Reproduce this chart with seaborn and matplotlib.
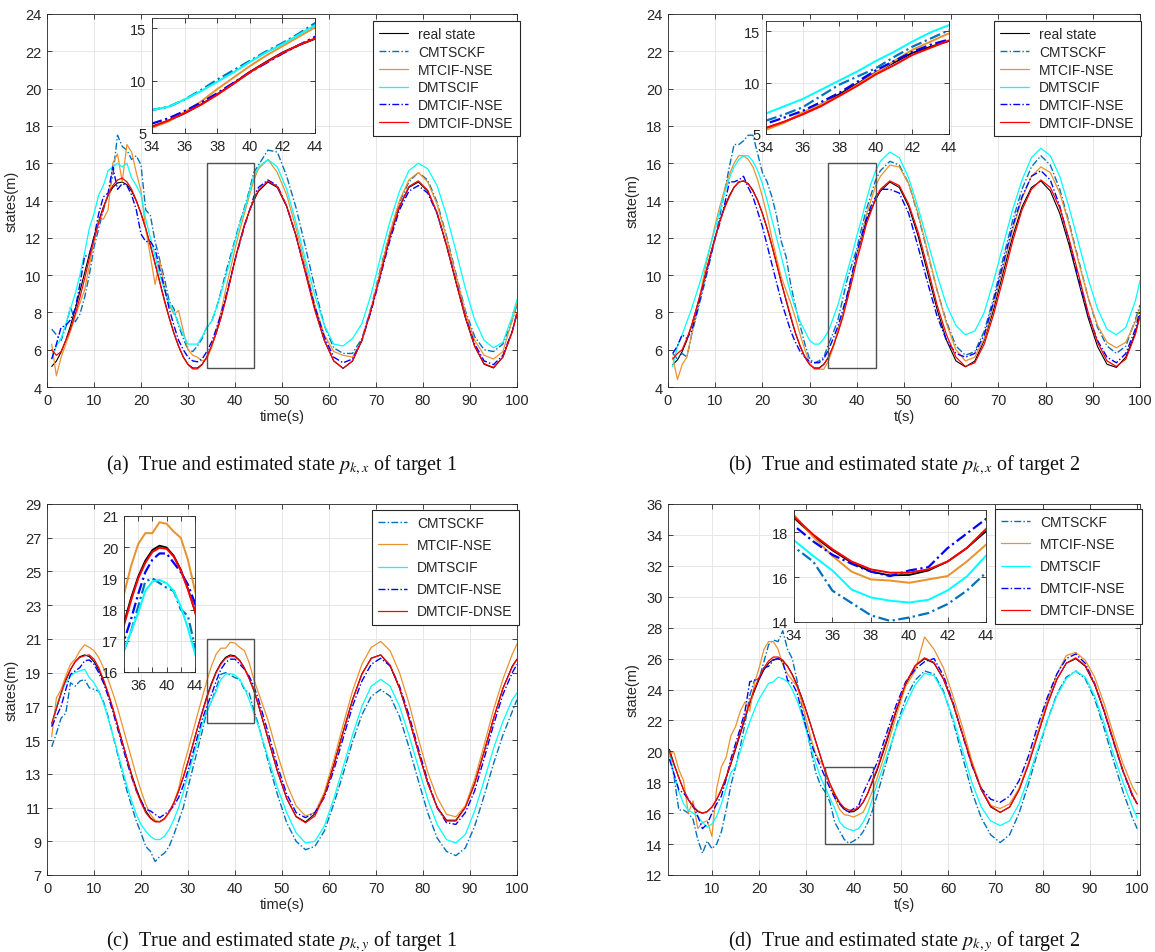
import matplotlib
matplotlib.use("Agg")
import matplotlib.pyplot as plt
import seaborn as sns
import numpy as np
import pandas as pd
from matplotlib.patches import Rectangle

# ---------------- data ----------------
t_grid = [1, 2, 3, 4, 5, 6, 7, 8, 9, 10, 11, 12, 13, 14, 15, 16, 17, 18, 19, 20,
          21, 22, 23, 24, 25, 26, 27, 28, 29, 30, 31, 32, 33, 34, 35, 36, 37, 38, 39, 40,
          41, 42, 43, 44, 45, 47, 49, 51, 53, 55, 57, 59, 61, 63, 65, 67, 69, 71, 73, 75,
          77, 79, 81, 83, 85, 87, 89, 91, 93, 95, 97, 99, 100]

methods = ["real state", "CMTSCKF", "MTCIF-NSE", "DMTSCIF", "DMTCIF-NSE", "DMTCIF-DNSE"]

# (a) p_{k,x} target 1
a_real = [5.10, 5.39, 5.87, 6.51, 7.29, 8.17, 9.13, 10.12, 11.11, 12.06,
          12.91, 13.66, 14.27, 14.70, 14.94, 14.99, 14.85, 14.51, 13.98, 13.31,
          12.50, 11.59, 10.62, 9.63, 8.65, 7.72, 6.88, 6.17, 5.61, 5.22,
          5.02, 5.02, 5.22, 5.61, 6.17, 6.88, 7.72, 8.70, 9.75, 10.85,
          11.80, 12.70, 13.40, 14.00,
          14.50, 14.99, 14.70, 13.67, 12.08, 10.12, 8.17, 6.51, 5.40, 5.00,
          5.39, 6.51, 8.17, 10.12, 12.06, 13.66, 14.70, 14.99, 14.51, 13.31,
          11.59, 9.63, 7.72, 6.17, 5.22, 5.02, 5.61, 7.00,
          7.90]
a_cmtsckf = [7.10, 6.80, 6.50, 7.20, 8.30, 7.50, 7.90, 8.80, 10.00, 11.50,
             12.50, 13.50, 14.30, 15.30, 17.50, 16.90, 16.70, 16.20, 16.40, 15.90,
             13.50, 13.20, 11.80, 10.80, 9.80, 8.60, 8.20, 7.30, 6.60, 6.00,
             5.90, 6.20, 6.60, 7.20, 7.50, 8.20, 9.10, 10.10, 11.00, 11.90,
             12.80, 13.60, 14.50, 15.50,
             15.90, 16.70, 16.60, 15.30, 13.60, 11.50, 9.30, 7.30, 6.10, 5.80,
             5.80, 6.60, 8.30, 10.40, 12.30, 13.90, 15.00, 15.50, 15.10, 13.90,
             12.10, 10.10, 8.10, 6.70, 6.00, 5.90, 6.30, 7.60,
             8.40]
a_mtcif = [6.30, 4.60, 5.60, 6.30, 7.00, 7.80, 8.50, 9.20, 10.50, 11.80,
           13.00, 13.00, 13.50, 16.00, 16.50, 15.00, 17.00, 16.60, 15.50, 14.50,
           12.50, 11.00, 9.50, 10.80, 9.30, 8.40, 7.90, 8.10, 7.00, 6.00,
           5.70, 5.60, 5.40, 5.50, 6.10, 7.00, 8.00, 9.20, 10.30, 11.40,
           12.40, 13.30, 14.20, 15.10,
           15.70, 16.20, 15.50, 14.30, 12.50, 10.50, 8.40, 6.80, 5.90, 5.70,
           5.60, 6.50, 8.20, 10.30, 12.30, 14.00, 15.10, 15.50, 15.00, 13.80,
           12.00, 10.00, 8.00, 6.50, 5.70, 5.50, 5.90, 7.60,
           8.50]
a_dmtscif = [5.50, 6.20, 6.60, 7.40, 8.20, 9.00, 10.00, 11.20, 12.50, 13.30,
             14.30, 14.80, 15.60, 15.80, 16.00, 15.80, 16.00, 15.20, 14.80, 14.30,
             13.00, 12.00, 11.00, 10.00, 9.20, 8.50, 8.00, 7.40, 6.80, 6.30,
             6.30, 6.30, 6.70, 7.20, 7.50, 8.20, 9.00, 9.90, 10.80, 11.80,
             12.70, 13.50, 14.40, 15.30,
             15.80, 16.20, 15.80, 14.60, 12.80, 10.80, 8.90, 7.30, 6.30, 6.20,
             6.60, 7.40, 9.00, 11.00, 12.90, 14.50, 15.60, 16.00, 15.70, 14.80,
             13.20, 11.30, 9.30, 7.60, 6.50, 6.10, 6.40, 7.80,
             8.70]
a_dmtcif_nse = [5.50, 6.30, 7.20, 7.30, 7.60, 8.20, 9.50, 11.00, 11.10, 12.00,
                13.30, 14.20, 14.40, 15.80, 14.60, 14.90, 14.80, 14.30, 13.50, 12.20,
                11.80, 11.80, 11.40, 10.30, 9.30, 8.20, 7.30, 6.50, 6.00, 5.60,
                5.40, 5.35, 5.50, 5.90, 6.40, 7.10, 7.90, 8.80, 9.80, 10.80,
                11.70, 12.60, 13.40, 14.20,
                14.70, 15.10, 14.80, 13.70, 12.10, 10.20, 8.30, 6.70, 5.60, 5.30,
                5.50, 6.50, 8.10, 10.00, 11.90, 13.50, 14.50, 14.80, 14.40, 13.30,
                11.60, 9.70, 7.80, 6.30, 5.40, 5.20, 5.70, 7.00,
                8.00]
a_dmtcif_dnse = [6.00, 5.70, 5.90, 6.50, 7.10, 7.90, 8.80, 9.80, 10.90, 11.90,
                 12.80, 13.60, 14.30, 14.80, 15.10, 15.20, 15.00, 14.60, 14.00, 13.30,
                 12.50, 11.60, 10.60, 9.60, 8.60, 7.70, 6.90, 6.20, 5.60, 5.20,
                 4.97, 4.97, 5.20, 5.60, 6.20, 6.90, 7.70, 8.65, 9.70, 10.80,
                 11.75, 12.65, 13.40, 14.05,
                 14.55, 15.05, 14.75, 13.70, 12.10, 10.10, 8.10, 6.50, 5.40, 5.00,
                 5.40, 6.50, 8.20, 10.10, 12.10, 13.70, 14.75, 15.05, 14.55, 13.35,
                 11.60, 9.65, 7.75, 6.20, 5.25, 5.05, 5.60, 6.95,
                 7.95]

# (b) p_{k,x} target 2
b_real = [5.20, 5.45, 5.90, 6.50, 7.29, 8.17, 9.13, 10.12, 11.11, 12.06,
          12.91, 13.66, 14.27, 14.72, 14.98, 15.05, 14.90, 14.55, 14.00, 13.31,
          12.50, 11.59, 10.62, 9.63, 8.65, 7.72, 6.88, 6.17, 5.61, 5.22,
          5.02, 5.02, 5.22, 5.58, 6.17, 6.95, 7.85, 8.87, 9.90, 11.00,
          11.95, 12.90, 13.50, 14.05,
          14.50, 14.99, 14.70, 13.67, 12.08, 10.12, 8.17, 6.51, 5.40, 5.08,
          5.39, 6.51, 8.17, 10.12, 12.06, 13.66, 14.70, 15.05, 14.51, 13.31,
          11.59, 9.63, 7.72, 6.17, 5.22, 5.05, 5.61, 6.90,
          7.85]
b_cmtsckf = [5.80, 5.50, 5.80, 5.60, 6.80, 7.80, 8.80, 9.80, 10.90, 12.00,
             13.20, 14.50, 15.80, 17.00, 17.00, 17.20, 17.50, 17.50, 16.50, 15.50,
             15.00, 14.20, 13.20, 11.80, 11.00, 9.50, 8.30, 7.30, 6.30, 5.50,
             5.30, 5.40, 5.60, 6.30, 6.90, 7.60, 8.70, 9.80, 10.60, 11.40,
             12.50, 13.50, 14.30, 15.10,
             15.60, 16.10, 15.90, 14.90, 13.20, 11.20, 9.20, 7.50, 6.20, 5.70,
             5.90, 7.00, 8.80, 10.90, 12.90, 14.60, 15.80, 16.40, 15.90, 14.60,
             12.80, 10.80, 8.80, 7.20, 6.20, 5.80, 6.20, 7.60,
             8.40]
b_mtcif = [5.60, 4.40, 5.20, 5.60, 6.80, 8.00, 9.20, 10.50, 11.60, 12.70,
           13.70, 14.60, 15.40, 16.00, 16.40, 16.40, 16.20, 15.80, 15.10, 14.20,
           13.20, 12.00, 10.90, 9.90, 9.20, 8.50, 7.70, 6.80, 6.00, 5.30,
           4.95, 4.95, 4.95, 5.40, 6.10, 7.10, 7.90, 8.70, 9.80, 10.95,
           12.10, 13.20, 14.00, 14.80,
           15.30, 15.90, 15.80, 14.90, 13.30, 11.30, 9.20, 7.40, 6.00, 5.40,
           5.60, 6.60, 8.40, 10.40, 12.40, 14.10, 15.30, 15.80, 15.50, 14.40,
           12.70, 10.70, 8.80, 7.30, 6.40, 6.10, 6.40, 7.50,
           8.20]
b_dmtscif = [5.10, 6.20, 6.80, 7.50, 8.20, 9.00, 9.80, 10.70, 11.60, 12.50,
             13.50, 14.40, 15.20, 15.80, 16.20, 16.40, 16.40, 16.10, 15.60, 14.90,
             14.00, 13.00, 12.00, 11.00, 10.00, 9.00, 8.20, 7.50, 7.00, 6.50,
             6.30, 6.30, 6.60, 7.00, 7.70, 8.40, 9.30, 10.20, 11.10, 12.10,
             13.00, 14.00, 14.90, 15.60,
             16.10, 16.60, 16.30, 15.20, 13.60, 11.80, 10.00, 8.40, 7.30, 6.80,
             7.00, 8.00, 9.70, 11.60, 13.50, 15.10, 16.30, 16.80, 16.40, 15.30,
             13.60, 11.70, 9.80, 8.20, 7.10, 6.80, 7.20, 8.60,
             9.70]
b_dmtcif_nse = [5.80, 6.20, 6.80, 6.60, 7.00, 7.90, 9.00, 10.00, 11.00, 12.00,
                12.80, 13.80, 15.00, 15.00, 15.10, 15.30, 14.70, 14.20, 13.40, 12.60,
                11.60, 10.60, 9.60, 8.60, 7.80, 7.00, 6.40, 5.90, 5.60, 5.35,
                5.30, 5.30, 5.50, 6.00, 6.60, 7.25, 8.10, 9.00, 10.10, 11.20,
                12.10, 13.00, 13.70, 14.20,
                14.60, 14.60, 14.40, 13.30, 11.50, 9.60, 7.80, 6.50, 5.80, 5.60,
                5.80, 6.80, 8.60, 10.60, 12.60, 14.20, 15.30, 15.60, 15.10, 13.70,
                11.80, 9.80, 7.90, 6.50, 5.60, 5.30, 5.80, 7.10,
                8.10]
b_dmtcif_dnse = [5.50, 5.80, 6.00, 6.60, 7.30, 8.20, 9.10, 10.10, 11.10, 12.00,
                 12.90, 13.60, 14.20, 14.70, 15.00, 15.05, 14.90, 14.50, 14.00, 13.30,
                 12.50, 11.60, 10.60, 9.60, 8.70, 7.80, 6.90, 6.20, 5.60, 5.20,
                 5.00, 5.00, 5.20, 5.60, 6.20, 6.90, 7.70, 8.70, 9.70, 10.80,
                 11.70, 12.70, 13.40, 14.10,
                 14.60, 15.05, 14.80, 13.80, 12.30, 10.40, 8.40, 6.80, 5.60, 5.10,
                 5.30, 6.30, 7.90, 9.80, 11.80, 13.50, 14.60, 15.10, 14.70, 13.60,
                 11.90, 10.00, 8.00, 6.40, 5.40, 5.10, 5.50, 6.80,
                 7.80]

# (c) p_{k,y} target 1
c_real = [15.89, 16.86, 17.75, 18.53, 19.17, 19.65, 19.95, 20.05, 19.95, 19.65,
          19.17, 18.53, 17.75, 16.86, 15.89, 14.90, 13.92, 12.97, 12.13, 11.40,
          10.81, 10.40, 10.18, 10.17, 10.34, 10.72, 11.27, 11.97, 12.80, 13.72,
          14.70, 15.69, 16.66, 17.58, 18.38, 19.06, 19.57, 19.91, 20.05, 19.99,
          19.73, 19.28, 18.67, 17.95,
          17.04, 15.10, 13.16, 11.53, 10.47, 10.15, 10.63, 11.81, 13.54, 15.50,
          17.40, 18.93, 19.86, 20.05, 19.39, 18.07, 16.28, 14.31, 12.45, 11.03,
          10.25, 10.25, 11.03, 12.45, 14.31, 16.28, 18.07, 19.39,
          19.80]
c_cmtsckf = [14.60, 15.40, 16.30, 16.60, 18.40, 18.20, 18.50, 18.60, 18.10, 18.00,
             17.90, 17.30, 16.40, 15.30, 14.20, 13.10, 12.00, 11.10, 10.20, 9.50,
             8.70, 8.40, 7.80, 8.10, 8.30, 8.70, 9.40, 10.20, 11.00, 12.20,
             13.30, 14.40, 15.50, 16.70, 17.30, 18.10, 18.90, 19.00, 18.85, 18.70,
             18.60, 18.00, 17.80, 16.80,
             15.90, 13.80, 11.80, 10.10, 9.00, 8.50, 8.70, 9.60, 11.20, 13.00,
             14.90, 16.50, 17.60, 18.00, 17.60, 16.40, 14.60, 12.60, 10.70, 9.20,
             8.40, 8.15, 8.60, 9.90, 11.70, 13.60, 15.30, 16.70,
             17.40]
c_mtcif = [15.20, 17.50, 18.00, 18.80, 19.50, 19.80, 20.30, 20.65, 20.50, 20.30,
           19.90, 19.30, 18.60, 17.80, 16.90, 15.90, 14.90, 13.90, 12.90, 12.00,
           11.20, 10.60, 10.25, 10.15, 10.30, 10.70, 11.30, 12.10, 13.40, 14.40,
           15.45, 16.50, 17.50, 18.50, 19.40, 20.10, 20.45, 20.45, 20.80, 20.75,
           20.50, 20.30, 19.60, 18.60,
           17.80, 16.20, 14.20, 12.40, 11.10, 10.50, 10.70, 11.90, 13.80, 15.90,
           17.90, 19.50, 20.50, 20.85, 20.30, 19.00, 17.20, 15.10, 13.10, 11.60,
           10.60, 10.45, 11.10, 12.70, 14.70, 16.80, 18.60, 20.10,
           20.70]
c_dmtscif = [15.90, 17.00, 17.80, 18.40, 18.80, 19.00, 19.10, 19.20, 18.70, 18.40,
             17.90, 17.20, 16.30, 15.30, 14.30, 13.30, 12.30, 11.40, 10.60, 10.00,
             9.60, 9.30, 9.10, 9.10, 9.30, 9.70, 10.30, 11.00, 11.90, 12.90,
             13.90, 14.90, 15.90, 16.70, 17.30, 17.90, 18.60, 18.90, 18.95, 18.85,
             18.60, 18.10, 17.40, 16.60,
             15.80, 14.00, 12.20, 10.70, 9.50, 8.90, 9.00, 9.90, 11.50, 13.40,
             15.30, 17.00, 18.20, 18.60, 18.20, 17.00, 15.30, 13.40, 11.50, 10.00,
             9.10, 8.90, 9.40, 10.80, 12.60, 14.50, 16.10, 17.40,
             17.80]
c_dmtcif_nse = [15.80, 16.40, 17.00, 18.00, 18.90, 19.10, 19.30, 19.70, 19.75, 19.50,
                19.00, 18.40, 17.60, 16.70, 15.70, 14.70, 13.70, 12.80, 12.00, 11.40,
                10.90, 10.80, 10.60, 10.40, 10.60, 10.80, 11.10, 11.60, 12.30, 13.20,
                14.20, 15.20, 16.20, 17.00, 17.70, 18.50, 19.20, 19.60, 19.80, 19.80,
                19.50, 19.20, 18.80, 18.20,
                17.40, 15.50, 13.50, 11.80, 10.70, 10.40, 10.70, 11.60, 13.20, 15.10,
                17.00, 18.50, 19.50, 19.85, 19.40, 18.20, 16.50, 14.50, 12.60, 11.00,
                10.10, 10.00, 10.70, 12.00, 13.90, 15.90, 17.70, 19.00,
                19.50]
c_dmtcif_dnse = [16.00, 16.90, 17.80, 18.60, 19.20, 19.65, 19.90, 20.00, 20.05, 19.80,
                 19.30, 18.60, 17.80, 16.90, 15.90, 14.90, 13.90, 12.90, 12.00, 11.30,
                 10.70, 10.35, 10.15, 10.15, 10.35, 10.75, 11.30, 12.00, 12.80, 13.70,
                 14.70, 15.70, 16.60, 17.50, 18.30, 19.00, 19.50, 19.85, 19.98, 19.95,
                 19.70, 19.25, 18.65, 17.95,
                 17.10, 15.15, 13.20, 11.55, 10.45, 10.10, 10.50, 11.70, 13.45, 15.45,
                 17.35, 18.90, 19.85, 20.05, 19.45, 18.10, 16.30, 14.30, 12.45, 11.00,
                 10.20, 10.20, 11.00, 12.40, 14.30, 16.25, 18.05, 19.35,
                 19.80]

# (d) p_{k,y} target 2
d_real = [20.13, 19.17, 18.29, 17.51, 16.87, 16.39, 16.10, 16.00, 16.10, 16.39,
          16.87, 17.51, 18.29, 19.17, 20.13, 21.12, 22.11, 23.06, 23.91, 24.66,
          25.27, 25.70, 25.94, 25.99, 25.85, 25.51, 24.98, 24.31, 23.50, 22.59,
          21.62, 20.63, 19.65, 18.65, 17.85, 17.20, 16.65, 16.25, 16.08, 16.10,
          16.30, 16.70, 17.30, 18.05,
          18.80, 20.63, 22.59, 24.31, 25.51, 25.99, 25.70, 24.67, 23.08, 21.12,
          19.17, 17.51, 16.40, 16.05, 16.39, 17.51, 19.17, 21.12, 23.06, 24.66,
          25.70, 25.99, 25.51, 24.31, 22.59, 20.63, 18.72, 17.17,
          16.61]
d_cmtsckf = [20.00, 18.30, 16.20, 16.20, 16.00, 15.60, 14.30, 13.40, 14.20, 13.70,
             14.00, 14.80, 16.20, 17.80, 19.00, 20.30, 21.80, 23.60, 24.60, 24.70,
             25.80, 26.90, 27.20, 27.10, 27.80, 26.60, 26.00, 24.60, 23.00, 21.50,
             20.00, 18.60, 17.80, 17.35, 16.70, 15.40, 14.85, 14.30, 14.05, 14.20,
             14.40, 14.80, 15.40, 16.20,
             17.20, 19.40, 21.60, 23.40, 24.60, 25.20, 25.00, 23.90, 22.00, 19.70,
             17.40, 15.70, 14.60, 14.10, 14.60, 16.00, 17.90, 20.00, 22.00, 23.70,
             24.80, 25.20, 24.70, 23.40, 21.50, 19.40, 17.40, 15.70,
             15.00]
d_mtcif = [19.90, 19.90, 18.80, 18.10, 16.00, 16.80, 15.00, 15.40, 15.50, 14.50,
           17.60, 19.00, 19.60, 21.00, 21.60, 22.60, 23.20, 22.60, 24.40, 25.40,
           26.60, 27.10, 27.10, 26.60, 25.60, 25.00, 24.60, 24.20, 23.20, 22.00,
           20.80, 19.80, 19.30, 18.78, 17.80, 16.95, 16.25, 15.90, 15.85, 15.75,
           15.90, 16.05, 16.70, 17.45,
           18.30, 20.20, 22.30, 24.20, 25.20, 27.40, 26.60, 25.40, 23.60, 21.60,
           19.40, 17.60, 16.50, 16.30, 16.60, 17.60, 19.30, 21.30, 23.30, 25.00,
           26.20, 26.40, 25.90, 24.80, 23.10, 21.10, 19.20, 17.70,
           17.20]
d_dmtscif = [19.80, 18.50, 17.40, 16.60, 16.20, 16.00, 15.80, 15.40, 15.10, 15.30,
             15.80, 16.60, 17.60, 18.60, 19.00, 20.00, 21.00, 21.90, 22.70, 23.40,
             23.90, 24.40, 24.50, 24.80, 24.70, 24.50, 24.00, 23.30, 22.40, 21.30,
             20.20, 19.20, 18.30, 17.65, 16.95, 16.30, 15.45, 15.10, 14.95, 14.87,
             14.99, 15.41, 16.03, 16.96,
             17.90, 19.70, 21.50, 23.00, 24.30, 25.05, 24.90, 23.80, 22.20, 20.10,
             18.00, 16.40, 15.50, 15.20, 15.50, 16.60, 18.30, 20.20, 22.00, 23.60,
             24.70, 25.20, 24.80, 23.60, 21.80, 19.80, 18.00, 16.40,
             15.70]
d_dmtcif_nse = [19.50, 18.50, 17.50, 17.30, 16.90, 16.50, 15.80, 15.00, 15.30, 16.00,
                16.60, 17.10, 18.20, 19.50, 20.50, 21.50, 22.60, 24.50, 24.60, 24.70,
                25.40, 25.50, 25.90, 26.00, 25.80, 24.60, 24.40, 23.80, 22.60, 21.50,
                20.50, 19.70, 19.00, 18.30, 17.60, 17.00, 16.60, 16.25, 16.05, 16.30,
                16.45, 17.30, 17.95, 18.60,
                19.30, 21.20, 23.00, 24.50, 25.30, 25.80, 26.00, 24.90, 23.20, 21.10,
                19.10, 17.60, 16.90, 16.70, 17.10, 18.10, 19.70, 21.70, 23.50, 25.00,
                26.00, 26.30, 25.70, 24.40, 22.60, 20.60, 18.70, 17.10,
                16.60]
d_dmtcif_dnse = [20.00, 19.10, 18.30, 17.50, 16.90, 16.45, 16.15, 16.00, 16.10, 16.40,
                 16.90, 17.55, 18.35, 19.25, 20.25, 21.25, 22.25, 23.20, 24.05, 24.80,
                 25.40, 25.85, 26.10, 26.10, 25.90, 25.50, 24.95, 24.25, 23.45, 22.55,
                 21.60, 20.60, 19.65, 18.70, 17.90, 17.25, 16.70, 16.35, 16.20, 16.20,
                 16.35, 16.70, 17.30, 18.15,
                 18.90, 20.80, 22.70, 24.40, 25.55, 26.05, 25.75, 24.70, 23.10, 21.15,
                 19.20, 17.55, 16.45, 16.05, 16.40, 17.50, 19.15, 21.10, 23.05, 24.65,
                 25.70, 26.05, 25.55, 24.35, 22.65, 20.70, 18.75, 17.20,
                 16.60]

panel_series = {
    "a": [a_real, a_cmtsckf, a_mtcif, a_dmtscif, a_dmtcif_nse, a_dmtcif_dnse],
    "b": [b_real, b_cmtsckf, b_mtcif, b_dmtscif, b_dmtcif_nse, b_dmtcif_dnse],
    "c": [c_real, c_cmtsckf, c_mtcif, c_dmtscif, c_dmtcif_nse, c_dmtcif_dnse],
    "d": [d_real, d_cmtsckf, d_mtcif, d_dmtscif, d_dmtcif_nse, d_dmtcif_dnse],
}
for k, lst in panel_series.items():
    for i, s in enumerate(lst):
        if len(s) != len(t_grid):
            raise ValueError(f"panel {k} series {i} has {len(s)} values")

# ---------------- style ----------------
sns.set_style("ticks")
plt.rcParams["font.family"] = ["Liberation Sans", "DejaVu Sans"]
plt.rcParams["mathtext.fontset"] = "stix"

DK = "#262626"
colors = {"real state": "#000000", "CMTSCKF": "#0072BD", "MTCIF-NSE": "#EA922F",
          "DMTSCIF": "#00FFFF", "DMTCIF-NSE": "#0000FF", "DMTCIF-DNSE": "#FF0000"}
DASHDOT = (0, (5, 1.6, 1, 1.6))
styles = {"real state": "-", "CMTSCKF": DASHDOT, "MTCIF-NSE": "-",
          "DMTSCIF": "-", "DMTCIF-NSE": DASHDOT, "DMTCIF-DNSE": "-"}
widths = {"real state": 0.8, "CMTSCKF": 1.0, "MTCIF-NSE": 0.9,
          "DMTSCIF": 0.9, "DMTCIF-NSE": 1.0, "DMTCIF-DNSE": 0.9}

W, H = 1155, 953
fig = plt.figure(figsize=(W / 100, H / 100), dpi=100)


def px_axes(x0, y0, x1, y1):
    return fig.add_axes([x0 / W, 1 - y1 / H, (x1 - x0) / W, (y1 - y0) / H])


def style_axes(ax, fs=10.5):
    ax.grid(True, color="#e3e3e3", lw=0.6)
    ax.set_axisbelow(True)
    ax.tick_params(direction="in", top=True, right=True, length=3.5, width=0.6,
                   colors=DK, labelsize=fs, pad=4)
    for sp in ax.spines.values():
        sp.set_color(DK)
        sp.set_linewidth(0.6)
        sp.set_visible(True)


def draw_lines(ax, series, lw_scale=1.0, legend_real=True):
    handles, labels = [], []
    for name, vals in zip(methods, series):
        df = pd.DataFrame({"t": t_grid, "v": vals})
        sns.lineplot(data=df, x="t", y="v", ax=ax, color=colors[name],
                     linewidth=widths[name] * lw_scale, linestyle=styles[name],
                     estimator=None, legend=False)
        line = ax.lines[-1]
        if name != "real state" or legend_real:
            handles.append(line)
            labels.append(name)
    ax.set_xlabel("")
    ax.set_ylabel("")
    return handles, labels


panels = [
    dict(key="a", box=(47, 15, 517, 388), ylim=(4, 24), yticks=np.arange(4, 25, 2),
         xlim=(0, 100), xticks=np.arange(0, 101, 10), xlabel="time(s)", ylabel="states(m)",
         caption=r"(a)  True and estimated state $p_{k,x}$ of target 1", cap_y=465,
         inset=(152, 19, 315, 134), iylim=(5, 16), iyticks=[5, 10, 15],
         ixlabels=["34", "36", "38", "40", "42", "44"],
         leg=(373, 22), rect=(34, 5, 10, 11), legend_real=True, lspace=0.27),
    dict(key="b", box=(668, 15, 1140, 388), ylim=(4, 24), yticks=np.arange(4, 25, 2),
         xlim=(0, 100), xticks=np.arange(0, 101, 10), xlabel="t(s)", ylabel="state(m)",
         caption=r"(b)  True and estimated state $p_{k,x}$ of target 2", cap_y=465,
         inset=(766, 22, 949, 135), iylim=(5, 16), iyticks=[5, 10, 15],
         ixlabels=["34", "36", "38", "40", "42", "44"],
         leg=(994, 22), rect=(34, 5, 10, 11), legend_real=True, lspace=0.27),
    dict(key="c", box=(47, 505, 517, 876), ylim=(7, 29), yticks=np.arange(7, 30, 2),
         xlim=(0, 100), xticks=np.arange(0, 101, 10), xlabel="time(s)", ylabel="states(m)",
         caption=r"(c)  True and estimated state $p_{k,y}$ of target 1", cap_y=942,
         inset=(124, 517, 195, 673), iylim=(16, 21), iyticks=[16, 17, 18, 19, 20, 21],
         ixlabels=["", "36", "", "40", "", "44"],
         leg=(372, 511), rect=(34, 16, 10, 5), legend_real=False, lspace=0.58),
    dict(key="d", box=(668, 505, 1140, 876), ylim=(12, 36), yticks=np.arange(12, 37, 2),
         xlim=(0.7, 100.6), xticks=np.arange(10, 101, 10), xlabel="t(s)", ylabel="state(m)",
         caption=r"(d)  True and estimated state $p_{k,y}$ of target 2", cap_y=942,
         inset=(794, 511, 986, 623), iylim=(14, 19), iyticks=[14, 16, 18],
         ixlabels=["34", "36", "38", "40", "42", "44"],
         leg=(995, 510), rect=(34, 14, 10, 5), legend_real=False, lspace=0.58),
]

for p in panels:
    x0, y0, x1, y1 = p["box"]
    ax = px_axes(x0, y0, x1, y1)
    series = panel_series[p["key"]]
    handles, labels = draw_lines(ax, series, 1.0, p["legend_real"])
    ax.set_xlim(*p["xlim"])
    ax.set_ylim(*p["ylim"])
    ax.set_xticks(p["xticks"])
    ax.set_yticks(p["yticks"])
    style_axes(ax)
    ax.set_xlabel(p["xlabel"], fontsize=10.5, color=DK, labelpad=2)
    ax.set_ylabel(p["ylabel"], fontsize=10.5, color=DK, labelpad=5)
    rx, ry, rw, rh = p["rect"]
    ax.add_patch(Rectangle((rx, ry), rw, rh, fill=False, ec="#505050", lw=1.0, zorder=5))

    lx, ly = p["leg"]
    ax_w, ax_h = x1 - x0, y1 - y0
    leg = ax.legend(handles, labels, loc="upper left",
                    bbox_to_anchor=((lx - x0) / ax_w, (y1 - ly) / ax_h),
                    borderaxespad=0, fontsize=10, frameon=True, fancybox=False,
                    framealpha=1, edgecolor=DK, handlelength=2.1, handletextpad=0.7,
                    labelspacing=p["lspace"], borderpad=0.45)
    leg.get_frame().set_linewidth(0.8)
    for txt in leg.get_texts():
        txt.set_color(DK)

    # inset
    ix0, iy0, ix1, iy1 = p["inset"]
    ia = px_axes(ix0, iy0, ix1, iy1)
    ia.set_facecolor("white")
    draw_lines(ia, series, 1.6, True)
    ia.set_xlim(34, 44)
    ia.set_ylim(*p["iylim"])
    ia.set_xticks([34, 36, 38, 40, 42, 44])
    ia.set_xticklabels(p["ixlabels"])
    ia.set_yticks(p["iyticks"])
    style_axes(ia, fs=10.5)

    fig.text(((x0 + x1) / 2) / W, 1 - p["cap_y"] / H, p["caption"],
             ha="center", va="center", fontsize=14.5,
             family=["Liberation Serif", "DejaVu Serif"], color="#111111")

fig.savefig("out.png", dpi=100)
